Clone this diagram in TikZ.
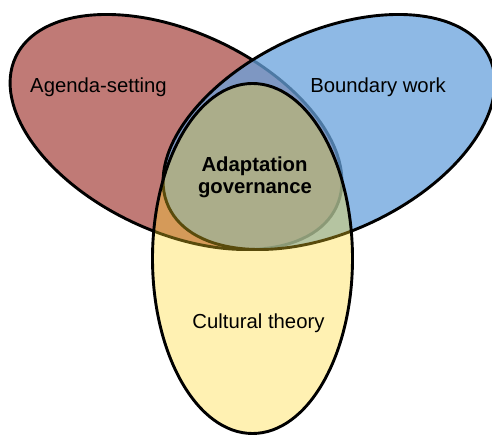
\documentclass[tikz,border=0pt]{standalone}
\usepackage{fontspec}
\setmainfont{Liberation Sans}
\definecolor{redc}{RGB}{192,122,118}
\definecolor{bluec}{RGB}{104,162,220}
\definecolor{yellowc}{RGB}{255,215,35}
\tikzset{
  venn/.style={draw=black, line width=2.9pt},
  lbl/.style={font=\fontsize{20.3}{22}\selectfont, text=black, inner sep=0pt, anchor=base},
  blbl/.style={lbl, font=\fontsize{20.3}{22}\selectfont\bfseries}
}
\begin{document}
\begin{tikzpicture}[x=1pt,y=1pt]
\useasboundingbox (0,0) rectangle (492,435);
% Agenda-setting (red)
\path[venn, fill=redc, rotate around={-25:(176,303)}] (176,303) ellipse (177 and 100);
% Boundary work (blue)
\path[venn, fill=bluec, fill opacity=0.75, rotate around={25:(329,303)}] (329,303) ellipse (177 and 100);
% Cultural theory (yellow)
\path[venn, fill=yellowc, fill opacity=0.35] (252.5,176.5) ellipse (100 and 175);
% labels
\node[lbl] (agenda) at (98.5,342.5) {Agenda-setting};
\node[lbl] (boundary) at (378,342.5) {Boundary work};
\node[lbl] (cultural) at (258.5,106) {Cultural theory};
\node[blbl] (adapt) at (254.5,263) {Adaptation};
\node[blbl] (gov) at (255,241.5) {governance};
\end{tikzpicture}
\end{document}
